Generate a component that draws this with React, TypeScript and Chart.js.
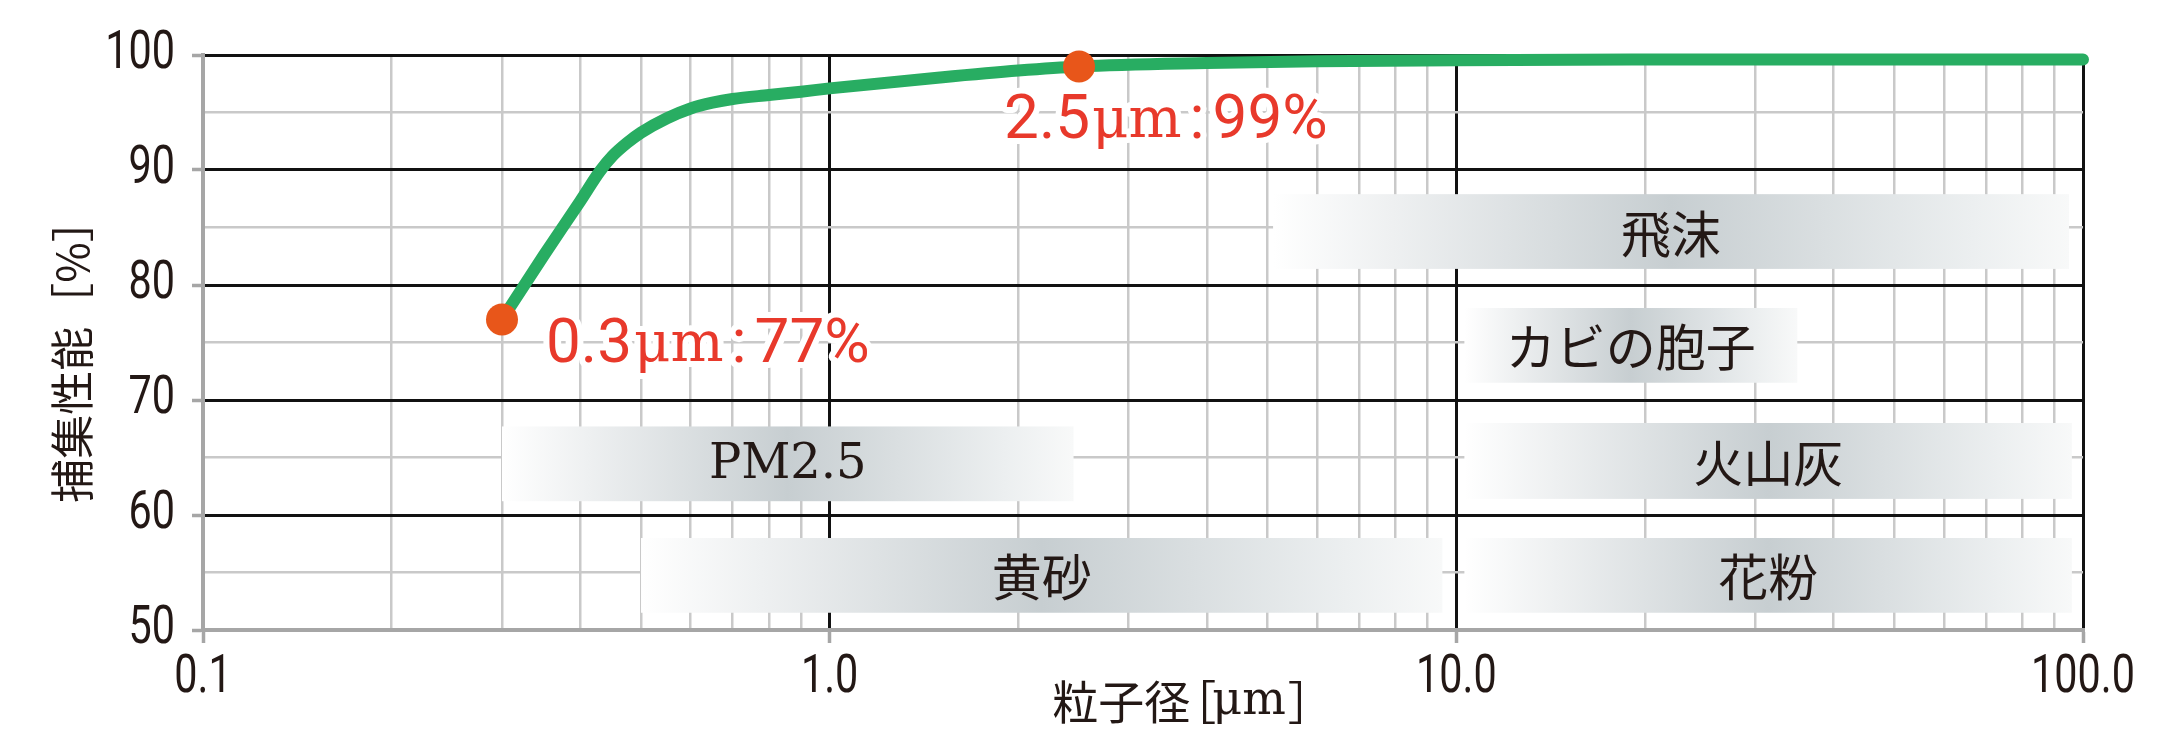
import React, { useEffect, useRef } from 'react';
import Chart from 'chart.js/auto';

// particle size [µm] vs. capture efficiency [%]
const sizes = [0.3, 0.35, 0.4, 0.43, 0.45, 0.475, 0.5, 0.55, 0.6, 0.65, 0.7, 0.8, 0.9, 1.0, 1.5, 2.0, 2.5, 4, 6, 10, 20, 50, 100];
const efficiency = [77, 82.6, 87.3, 89.9, 91.2, 92.35, 93.25, 94.5, 95.35, 95.85, 96.17, 96.52, 96.81, 97.1, 98.05, 98.65, 99.0, 99.3, 99.45, 99.55, 99.6, 99.6, 99.6];

// highlighted points
const markedSizes = [0.3, 2.5];
const markedValues = [77, 99];

// particle type bands
const bandLabels = ['飛沫', 'カビの胞子', '火山灰', 'PM2.5', '黄砂', '花粉'];
const bandFrom = [5.1, 10.3, 10.3, 0.3, 0.5, 10.3];
const bandTo = [95, 35, 96, 2.45, 9.5, 96];
const bandLow = [81.4, 71.5, 61.4, 61.2, 51.5, 51.5];
const bandHigh = [87.9, 78, 68, 67.7, 58, 58];

// ticks
const xTickValues = [
  0.1, 0.2, 0.3, 0.4, 0.5, 0.6, 0.7, 0.8, 0.9,
  1, 2, 3, 4, 5, 6, 7, 8, 9,
  10, 20, 30, 40, 50, 60, 70, 80, 90,
  100,
];
const xDecades = [0.1, 1, 10, 100];
const xDecadeLabels = ['0.1', '1.0', '10.0', '100.0'];
const yTickValues = [50, 55, 60, 65, 70, 75, 80, 85, 90, 95, 100];
const yLabelValues = [50, 60, 70, 80, 90, 100];

const xTitle = '粒子径';
const xUnit = 'μm';
const yTitle = '捕集性能［%］';

const NUM_FONT = '400 53px Roboto, sans-serif';
const CJK_FONT = "'Noto Sans CJK JP', sans-serif";
const SERIF_FONT = "'DejaVu Serif', serif";
const LABEL_FONT = 'Roboto, sans-serif';
const INK = '#231815';
const GRAY_LINE = '#c9c9c9';
const AXIS_GRAY = '#a6a6a6';
const BLACK_LINE = '#111111';
const NUM_SQUEEZE = 0.78;

const isDecade = (v: number) => Math.abs(Math.log10(v) - Math.round(Math.log10(v))) < 1e-9;

// label offsets from their point, in px
const calloutDx = [44, -75];
const calloutDy = [27, 56];

const bandsPlugin = {
  id: 'bands',
  beforeDatasetsDraw(chart: any) {
    const { ctx, scales } = chart;
    const x = scales.x;
    const y = scales.y;
    ctx.save();
    bandLabels.forEach((label, i) => {
      const x0 = x.getPixelForValue(bandFrom[i]);
      const x1 = x.getPixelForValue(bandTo[i]);
      const y0 = y.getPixelForValue(bandHigh[i]);
      const y1 = y.getPixelForValue(bandLow[i]);
      const g = ctx.createLinearGradient(x0, 0, x1, 0);
      g.addColorStop(0, '#ffffff');
      g.addColorStop(0.15, '#eef0f1');
      g.addColorStop(0.5, '#c7ced1');
      g.addColorStop(0.88, '#eceff0');
      g.addColorStop(1, '#f8f9f9');
      ctx.fillStyle = g;
      ctx.fillRect(x0, y0, x1 - x0, y1 - y0);
      ctx.fillStyle = INK;
      ctx.textAlign = 'center';
      ctx.textBaseline = 'middle';
      ctx.font = /[A-Z0-9]/.test(label) ? `48px ${SERIF_FONT}` : `50px ${CJK_FONT}`;
      ctx.fillText(label, (x0 + x1) / 2, (y0 + y1) / 2 + 2);
    });
    ctx.restore();
  },
};

const drawParts = (ctx: CanvasRenderingContext2D, parts: [string, string, number][], startX: number, midY: number, halo: boolean) => {
  let cx = startX;
  parts.forEach(([text, font, gap]) => {
    ctx.font = font;
    if (halo) ctx.strokeText(text, cx, midY);
    ctx.fillText(text, cx, midY);
    cx += ctx.measureText(text).width + gap;
  });
};

const partsWidth = (ctx: CanvasRenderingContext2D, parts: [string, string, number][]) => {
  let w = 0;
  parts.forEach(([text, font, gap], i) => {
    ctx.font = font;
    w += ctx.measureText(text).width + (i < parts.length - 1 ? gap : 0);
  });
  return w;
};

const calloutPlugin = {
  id: 'callouts',
  afterDatasetsDraw(chart: any) {
    const { ctx, scales } = chart;
    ctx.save();
    ctx.textAlign = 'left';
    ctx.textBaseline = 'middle';
    ctx.fillStyle = '#e8392b';
    ctx.strokeStyle = '#ffffff';
    ctx.lineWidth = 12;
    ctx.lineJoin = 'round';
    markedSizes.forEach((s, i) => {
      const px = scales.x.getPixelForValue(s);
      const py = scales.y.getPixelForValue(markedValues[i]);
      const parts: [string, string, number][] = [
        [String(s), `62px ${LABEL_FONT}`, 2],
        [xUnit, `56px ${SERIF_FONT}`, 8],
        [':', `62px ${LABEL_FONT}`, 8],
        [`${markedValues[i]}%`, `62px ${LABEL_FONT}`, 0],
      ];
      drawParts(ctx, parts, px + calloutDx[i], py + calloutDy[i], true);
    });
    ctx.restore();
  },
};

// tick numbers in a narrow face (drawn squeezed, no condensed font installed)
const tickLabelsPlugin = {
  id: 'tickLabels',
  afterDraw(chart: any) {
    const { ctx, scales, chartArea } = chart;
    ctx.save();
    ctx.fillStyle = INK;
    ctx.font = NUM_FONT;
    ctx.textBaseline = 'middle';

    ctx.textAlign = 'right';
    yLabelValues.forEach((v) => {
      const py = scales.y.getPixelForValue(v);
      ctx.save();
      ctx.translate(chartArea.left - 28, py);
      ctx.scale(NUM_SQUEEZE, 1);
      ctx.fillText(String(v), 0, 0);
      ctx.restore();
    });

    ctx.textAlign = 'center';
    xDecades.forEach((v, i) => {
      const px = scales.x.getPixelForValue(v);
      ctx.save();
      ctx.translate(px, chartArea.bottom + 49);
      ctx.scale(NUM_SQUEEZE, 1);
      ctx.fillText(xDecadeLabels[i], 0, 0);
      ctx.restore();
    });
    ctx.restore();
  },
};

const titlesPlugin = {
  id: 'axisTitles',
  afterDraw(chart: any) {
    const { ctx, chartArea } = chart;
    ctx.save();
    ctx.fillStyle = INK;
    ctx.textBaseline = 'middle';

    // y title, rotated
    ctx.save();
    ctx.translate(chartArea.left - 131, (chartArea.top + chartArea.bottom) / 2 + 8);
    ctx.rotate(-Math.PI / 2);
    ctx.textAlign = 'center';
    ctx.font = `44px ${CJK_FONT}`;
    ctx.fillText(yTitle, 0, 0);
    ctx.restore();

    // x title, sits between the 1.0 and 10.0 labels
    ctx.textAlign = 'left';
    const parts: [string, string, number][] = [
      [xTitle, `46px ${CJK_FONT}`, -20],
      ['［', `46px ${CJK_FONT}`, -4],
      [xUnit, `46px ${SERIF_FONT}`, 2],
      ['］', `46px ${CJK_FONT}`, 0],
    ];
    const w = partsWidth(ctx, parts);
    const cx = (chartArea.left + chartArea.right) / 2 + 50;
    drawParts(ctx, parts, cx - w / 2, chartArea.bottom + 72, false);
    ctx.restore();
  },
};

const App: React.FC = () => {
  const canvasRef = useRef<HTMLCanvasElement>(null);
  const chartRef = useRef<Chart | null>(null);

  useEffect(() => {
    if (!canvasRef.current) return;
    if (chartRef.current) chartRef.current.destroy();

    chartRef.current = new Chart(canvasRef.current, {
      type: 'line',
      data: {
        datasets: [
          {
            data: sizes.map((s, i) => ({ x: s, y: efficiency[i] })),
            borderColor: '#28ad62',
            borderWidth: 12,
            borderCapStyle: 'round',
            borderJoinStyle: 'round',
            cubicInterpolationMode: 'monotone',
            pointRadius: 0,
            clip: false,
            order: 2,
          },
          {
            data: markedSizes.map((s, i) => ({ x: s, y: markedValues[i] })),
            showLine: false,
            pointRadius: 16,
            pointBackgroundColor: '#e8561a',
            pointBorderWidth: 0,
            clip: false,
            order: 1,
          },
        ],
      },
      options: {
        animation: false,
        responsive: true,
        maintainAspectRatio: false,
        layout: { padding: { top: 55, right: 93, left: 0, bottom: 0 } },
        plugins: {
          legend: { display: false },
          tooltip: { enabled: false },
        },
        scales: {
          x: {
            type: 'logarithmic',
            min: 0.1,
            max: 100,
            afterBuildTicks: (s: any) => {
              s.ticks = xTickValues.map((v) => ({ value: v }));
            },
            afterFit: (s: any) => {
              s.height = 122;
            },
            border: { color: AXIS_GRAY, width: 4 },
            grid: {
              color: (c: any) => (c.tick && isDecade(c.tick.value) && c.tick.value > 0.1 ? BLACK_LINE : GRAY_LINE),
              lineWidth: (c: any) => (c.tick && isDecade(c.tick.value) ? 3 : 2.5),
              tickColor: (c: any) => (c.tick && isDecade(c.tick.value) ? AXIS_GRAY : 'rgba(0,0,0,0)'),
              tickLength: 13,
              tickWidth: 3.5,
            },
            ticks: { display: false, autoSkip: false, maxRotation: 0 },
          },
          y: {
            type: 'linear',
            min: 50,
            max: 100,
            afterBuildTicks: (s: any) => {
              s.ticks = yTickValues.map((v) => ({ value: v }));
            },
            afterFit: (s: any) => {
              s.width = 203;
            },
            border: { color: AXIS_GRAY, width: 4 },
            grid: {
              color: (c: any) => (c.tick && c.tick.value % 10 === 0 && c.tick.value > 50 ? BLACK_LINE : GRAY_LINE),
              lineWidth: (c: any) => (c.tick && c.tick.value % 10 === 0 ? 3 : 2.5),
              tickColor: (c: any) => (c.tick && c.tick.value % 10 === 0 ? AXIS_GRAY : 'rgba(0,0,0,0)'),
              tickLength: 11,
              tickWidth: 3.5,
            },
            ticks: { display: false },
          },
        },
      },
      plugins: [bandsPlugin, calloutPlugin, tickLabelsPlugin, titlesPlugin],
    });

    return () => {
      if (chartRef.current) {
        chartRef.current.destroy();
        chartRef.current = null;
      }
    };
  }, []);

  return (
    <div style={{ position: 'fixed', left: 0, top: 0, width: 2176, height: 752, background: '#ffffff' }}>
      <canvas ref={canvasRef}></canvas>
    </div>
  );
};

export default App;
